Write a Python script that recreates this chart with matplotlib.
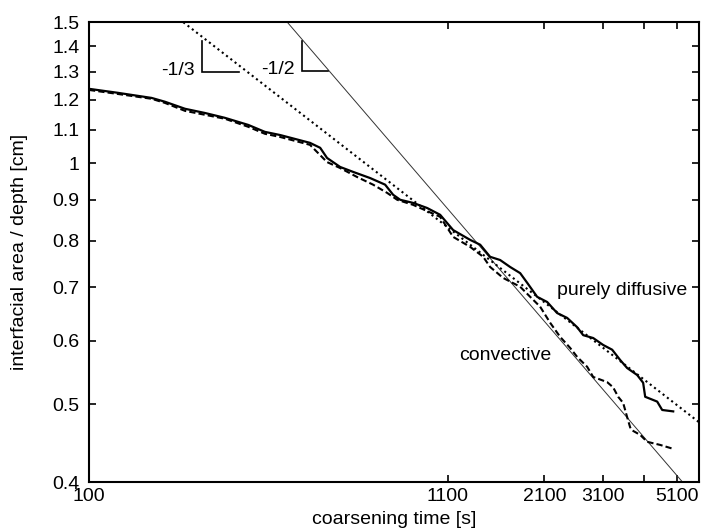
"""Coarsening of interfacial area: purely diffusive vs convective runs."""

import matplotlib

matplotlib.use("Agg")
import matplotlib.pyplot as plt
from matplotlib.ticker import FixedLocator, FixedFormatter, NullLocator

plt.rcParams["font.family"] = ["Liberation Sans", "DejaVu Sans"]

# purely diffusive run (solid)
diffusive_t = [100, 121, 152, 166, 190, 217, 248, 290, 324, 359, 438, 469, 491,
               536, 585, 655, 724, 764, 801, 873, 959, 1046, 1141, 1279, 1367,
               1461, 1562, 1670, 1786, 1872, 2001, 2139, 2287, 2445, 2615, 2722,
               2910, 3112, 3304, 3485, 3652, 3905, 4064, 4120, 4464, 4616, 4969]
diffusive_a = [1.238, 1.224, 1.206, 1.193, 1.169, 1.155, 1.139, 1.116, 1.094,
               1.084, 1.060, 1.045, 1.015, 0.989, 0.975, 0.958, 0.940, 0.913,
               0.900, 0.892, 0.879, 0.862, 0.825, 0.802, 0.791, 0.764, 0.757,
               0.742, 0.729, 0.709, 0.681, 0.671, 0.650, 0.641, 0.624, 0.610,
               0.605, 0.593, 0.585, 0.568, 0.555, 0.544, 0.532, 0.511, 0.504,
               0.492, 0.490]

# convective run (dashed)
convective_t = [100, 121, 152, 166, 190, 217, 248, 290, 324, 359, 438, 491, 536,
                600, 668, 734, 785, 873, 1046, 1141, 1279, 1395, 1461, 1594,
                1786, 1910, 2041, 2183, 2333, 2495, 2615, 2795, 2910, 3195,
                3326, 3439, 3556, 3652, 3726, 3777, 3985, 4175, 4554, 4969]
convective_a = [1.234, 1.220, 1.203, 1.189, 1.162, 1.149, 1.136, 1.110, 1.088,
                1.078, 1.054, 1.003, 0.986, 0.961, 0.940, 0.918, 0.900, 0.887,
                0.857, 0.809, 0.786, 0.764, 0.742, 0.719, 0.701, 0.681, 0.662,
                0.632, 0.607, 0.588, 0.573, 0.557, 0.541, 0.533, 0.525, 0.511,
                0.502, 0.482, 0.468, 0.464, 0.458, 0.449, 0.445, 0.440]

# power-law guides: a = a0 * (t / t0) ** slope
guide_t = [150, 6000]
third_t0, third_a0, third_slope = 187.5, 1.5, -1 / 3
half_t0, half_a0, half_slope = 376.0, 1.5, -1 / 2

# slope triangles: (t_left, t_right, a_top, a_bottom)
tri_third = (212.5, 273.0, 1.422, 1.301)
tri_half = (415.0, 495.0, 1.422, 1.303)

x_ticks = [100, 1100, 2100, 3100, 4100, 5100]
x_tick_labels = ["100", "1100", "2100", "3100", "", "5100"]
y_ticks = [0.4, 0.5, 0.6, 0.7, 0.8, 0.9, 1.0, 1.1, 1.2, 1.3, 1.4, 1.5]
y_tick_labels = ["0.4", "0.5", "0.6", "0.7", "0.8", "0.9", "1", "1.1", "1.2",
                 "1.3", "1.4", "1.5"]

FONT_SIZE = 14


def power_law(ts, t0, a0, slope):
    return [a0 * (t / t0) ** slope for t in ts]


def draw_triangle(axis, tri, label):
    t_left, t_right, a_top, a_bottom = tri
    axis.plot([t_left, t_left, t_right], [a_top, a_bottom, a_bottom],
              color="black", linewidth=1.2, solid_joinstyle="miter")
    axis.text(t_left * 0.955, a_bottom * 1.004, label,
              ha="right", va="center", fontsize=FONT_SIZE)


figure = plt.figure(figsize=(7.01, 5.29), dpi=100)
axis = figure.add_axes([0.127, 0.0888, 0.870, 0.8696])

axis.plot(guide_t, power_law(guide_t, half_t0, half_a0, half_slope),
          color="#333333", linewidth=0.7)
axis.plot(guide_t, power_law(guide_t, third_t0, third_a0, third_slope),
          color="black", linewidth=1.5, linestyle=(0, (1, 1.6)))
axis.plot(diffusive_t, diffusive_a, color="black", linewidth=1.6)
axis.plot(convective_t, convective_a, color="black", linewidth=1.5,
          linestyle=(0, (3, 1.5)))

draw_triangle(axis, tri_third, "-1/3")
draw_triangle(axis, tri_half, "-1/2")

axis.text(2282, 0.693, "purely diffusive", ha="left", va="center",
          fontsize=FONT_SIZE)
axis.text(1187, 0.576, "convective", ha="left", va="center",
          fontsize=FONT_SIZE)

axis.set_xscale("log")
axis.set_yscale("log")
axis.set_xlim(100, 5900)
axis.set_ylim(0.4, 1.5)

axis.xaxis.set_major_locator(FixedLocator(x_ticks))
axis.xaxis.set_major_formatter(FixedFormatter(x_tick_labels))
axis.xaxis.set_minor_locator(NullLocator())
axis.yaxis.set_major_locator(FixedLocator(y_ticks))
axis.yaxis.set_major_formatter(FixedFormatter(y_tick_labels))
axis.yaxis.set_minor_locator(NullLocator())

axis.tick_params(direction="in", length=5, width=1.2, top=True, right=True,
                 labelsize=FONT_SIZE)
axis.tick_params(axis="y", pad=7)
axis.tick_params(axis="x", pad=4)
for spine in axis.spines.values():
    spine.set_linewidth(1.5)

axis.set_xlabel("coarsening time [s]", fontsize=FONT_SIZE)
axis.set_ylabel("interfacial area / depth [cm]", fontsize=FONT_SIZE)
axis.xaxis.set_label_coords(0.5, -0.064)
axis.yaxis.set_label_coords(-0.1, 0.5)

figure.savefig("out.png", dpi=100)
plt.close(figure)
